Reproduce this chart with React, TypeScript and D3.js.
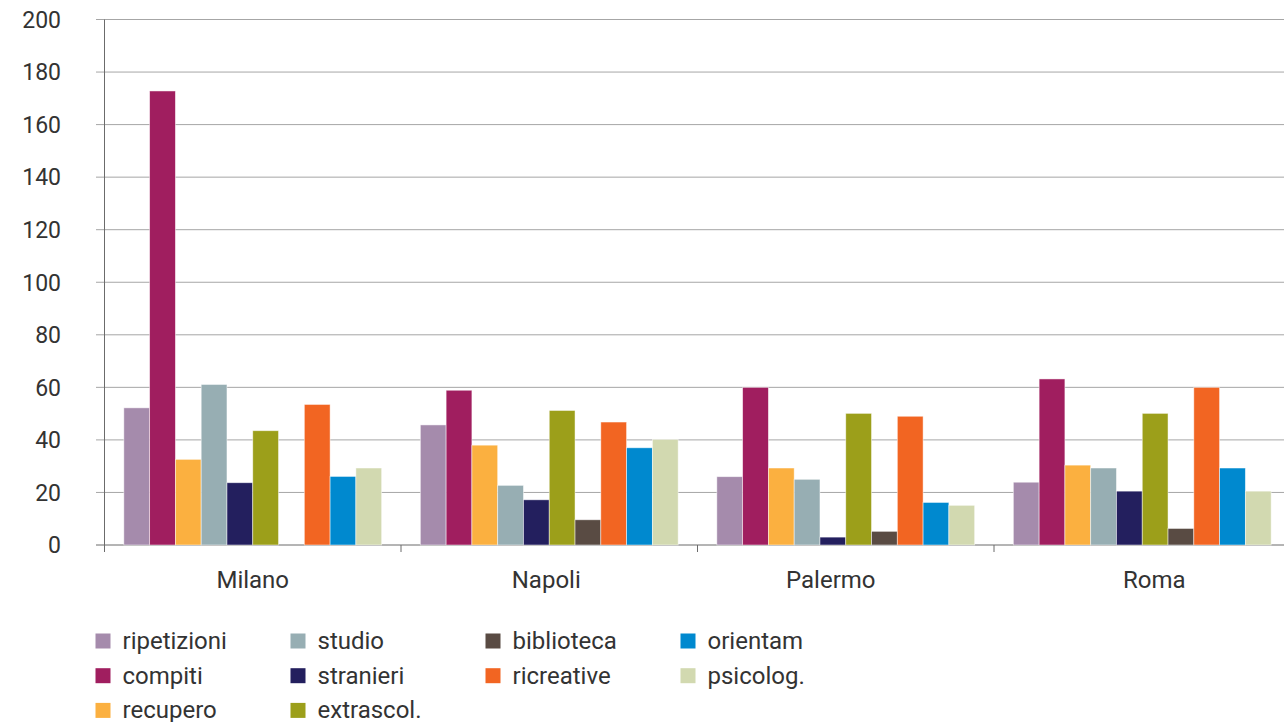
import React from "react";
import * as d3 from "d3";

const categories = ["Milano", "Napoli", "Palermo", "Roma"];
const seriesNames = ["ripetizioni", "compiti", "recupero", "studio", "stranieri", "extrascol.", "biblioteca", "ricreative", "orientam", "psicolog."];
const seriesColors = ["#A58BAC", "#A01E5F", "#FBB040", "#97AEB3", "#231F5E", "#9C9F1A", "#594B43", "#F26522", "#0089CF", "#D2D9B0"];
const milano = [52.2, 172.8, 32.6, 61.1, 23.7, 43.5, 0, 53.5, 26.1, 29.3];
const napoli = [45.7, 58.9, 38, 22.7, 17.2, 51.2, 9.6, 46.8, 37, 40.2];
const palermo = [26, 60, 29.3, 25, 3, 50.1, 5.2, 49, 16.2, 15.1];
const roma = [23.9, 63.2, 30.4, 29.3, 20.5, 50.1, 6.3, 60, 29.3, 20.5];
const yTicks = [0, 20, 40, 60, 80, 100, 120, 140, 160, 180, 200];
const legendOrder = [
  ["ripetizioni", "compiti", "recupero"],
  ["studio", "stranieri", "extrascol."],
  ["biblioteca", "ricreative"],
  ["orientam", "psicolog."],
];

const values = [milano, napoli, palermo, roma];
// small horizontal nudges of the category labels, as in the reference layout
const labelNudge = [0, -3, -15, 12];

export default function App() {
  const W = 1284, H = 722;
  const x0 = d3.scaleBand<string>().domain(categories).range([104.5, 104.5 + 296.5 * 4]).padding(0);
  const x1 = d3.scaleBand<string>().domain(seriesNames).range([0, x0.bandwidth()]).paddingInner(0).paddingOuter(0.75);
  const y = d3.scaleLinear().domain([0, 200]).range([545, 19.5]);
  const color = d3.scaleOrdinal<string, string>().domain(seriesNames).range(seriesColors);
  const font = "Roboto, 'Open Sans', sans-serif";

  return (
    <div style={{ position: "fixed", left: 0, top: 0 }}>
      <svg width={W} height={H} style={{ display: "block", background: "#fff" }}>
        {yTicks.map((t) => (
          <g key={t}>
            <line x1={96} x2={W} y1={y(t)} y2={y(t)} stroke={t === 0 ? "#6b6b6b" : "#a6a6a6"} strokeWidth={1} />
            <text x={61} y={y(t)} dy="0.36em" textAnchor="end" fontFamily={font} fontSize={23} fill="#333">{t}</text>
          </g>
        ))}
        <line x1={104.5} x2={104.5} y1={y(200)} y2={y(0) + 7} stroke="#6b6b6b" strokeWidth={1} />
        {categories.slice(1).map((c) => (
          <line key={c} x1={x0(c)!} x2={x0(c)!} y1={y(0)} y2={y(0) + 7} stroke="#6b6b6b" strokeWidth={1} />
        ))}
        {categories.map((c, ci) => (
          <g key={c} transform={`translate(${x0(c)},0)`}>
            {seriesNames.map((s, si) => {
              const v = values[ci][si];
              if (!v) return null;
              return (
                <rect key={s} x={x1(s)!} width={x1.bandwidth()} y={y(v)} height={y(0) - y(v)}
                  fill={color(s)} stroke="#fff" strokeOpacity={0.6} strokeWidth={0.8} />
              );
            })}
            <text x={x0.bandwidth() / 2 + labelNudge[ci]} y={588} textAnchor="middle" fontFamily={font} fontSize={24} fill="#333">{c}</text>
          </g>
        ))}
        {legendOrder.map((col, ci) =>
          col.map((s, ri) => (
            <g key={s} transform={`translate(${95.5 + ci * 195},${633.5 + ri * 34.7})`}>
              <rect x={0} y={0} width={15} height={15} fill={color(s)} />
              <text x={27} y={15.5} fontFamily={font} fontSize={24} fill="#333">{s}</text>
            </g>
          ))
        )}
      </svg>
    </div>
  );
}
